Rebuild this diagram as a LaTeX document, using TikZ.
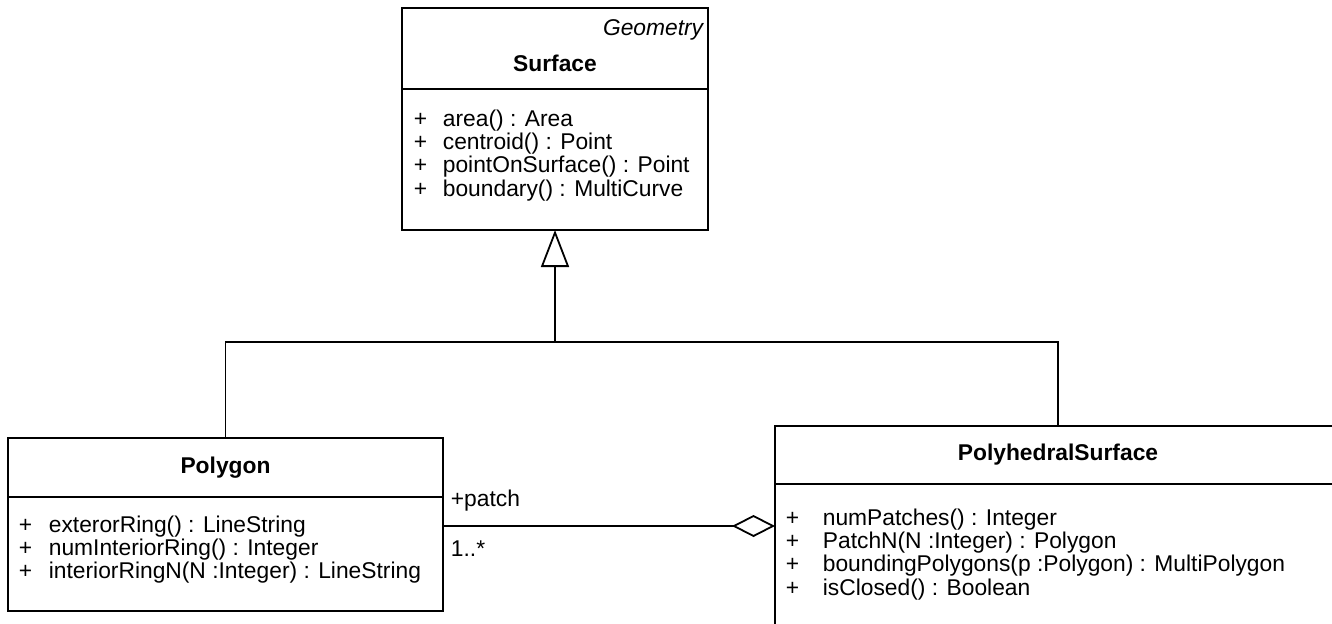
\documentclass[tikz,border=0pt]{standalone}
\usepackage{fontspec}
\setmainfont{Liberation Sans}
\usetikzlibrary{arrows.meta,positioning}
\newcommand{\umlsize}{\fontsize{11.4}{11.25}\selectfont}

\begin{document}
\begin{tikzpicture}[x=0.5pt,y=-0.5pt,line width=0.9pt,font=\umlsize]
        \tikzstyle{classbox}=[draw, rectangle, inner sep=0pt, outer sep=0pt, fill=white]
        \tikzstyle{ops}=[anchor=north west, inner sep=0pt]
        \tikzstyle{inherit}=[-{Triangle[open,length=18.5pt,width=14pt]}]
        \tikzstyle{aggr}=[-{Diamond[open,length=21.5pt,width=11pt]}]

        \useasboundingbox (0,0) rectangle (1332,623);
        \clip (0,0) rectangle (1332,623);

        \node[classbox, minimum width=153pt, minimum height=40.5pt] (Sh) at (555,48.5) {};
        \node[classbox, minimum width=153pt, minimum height=70.5pt, below=0pt of Sh] (Sb) {};
        \node[anchor=east, inner sep=0pt, font=\umlsize\itshape] (Sg) at ([xshift=-2pt,yshift=-11pt]Sh.north east) {Geometry};
        \node[inner sep=0pt, font=\umlsize\bfseries] (St) at ([yshift=-27.5pt]Sh.north) {Surface};
        \node[ops] (So) at ([xshift=5.5pt,yshift=-10pt]Sb.north west) {\begin{tabular}{@{}p{14.5pt}@{}l@{}}
                + & area() : Area\\
                + & centroid() : Point\\
                + & pointOnSurface() : Point\\
                + & boundary() : MultiCurve
        \end{tabular}};

        \node[classbox, minimum width=217.5pt, minimum height=29.5pt, font=\umlsize\bfseries] (Ph) at (225.5,467.5) {Polygon};
        \node[classbox, minimum width=217.5pt, minimum height=57pt, below=0pt of Ph] (Pb) {};
        \node[ops] (Po) at ([xshift=5pt,yshift=-9pt]Pb.north west) {\begin{tabular}{@{}p{15pt}@{}l@{}}
                + & exterorRing() : LineString\\
                + & numInteriorRing() : Integer\\
                + & interiorRingN(N :Integer) : LineString
        \end{tabular}};

        \node[classbox, minimum width=283pt, minimum height=29pt, font=\umlsize\bfseries] (Qh) at (1058,455) {PolyhedralSurface};
        \node[classbox, minimum width=283pt, minimum height=80pt, below=0pt of Qh] (Qb) {};
        \node[ops] (Qo) at ([xshift=5pt,yshift=-12pt]Qb.north west) {\begin{tabular}{@{}p{18.5pt}@{}l@{}}
                + & numPatches() : Integer\\
                + & PatchN(N :Integer) : Polygon\\
                + & boundingPolygons(p :Polygon) : MultiPolygon\\
                + & isClosed() : Boolean
        \end{tabular}};

        \coordinate (J) at (555,342);
        \draw[inherit] (J) -- (Sb.south);
        \draw (Ph.north) |- (J) -| (Qh.north);

        \coordinate (W) at ([yshift=-21pt]Qb.north west);
        \draw[aggr] (Pb.east |- W) -- node[pos=0, anchor=south west, inner sep=0pt, xshift=3.5pt, yshift=6.7pt] {+patch}
                node[pos=0, anchor=north west, inner sep=0pt, xshift=3.5pt, yshift=-7pt] {1..*} (W);
\end{tikzpicture}
\end{document}
